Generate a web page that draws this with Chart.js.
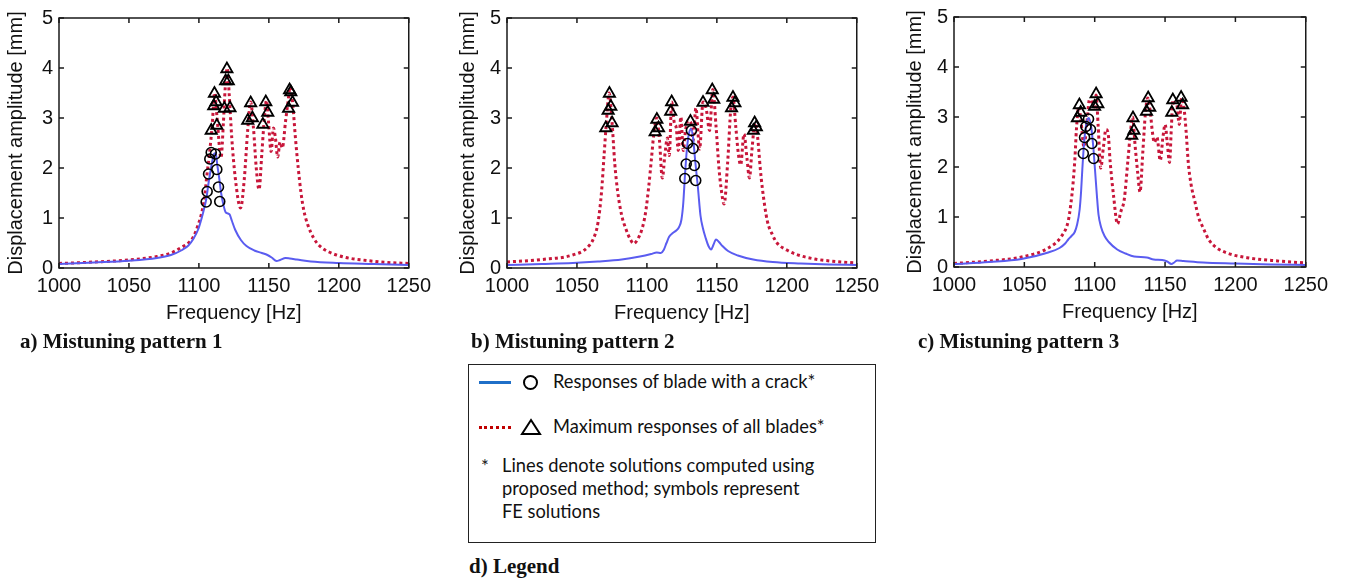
<!DOCTYPE html>
<html>
<head>
<meta charset="utf-8">
<script src="https://cdn.jsdelivr.net/npm/chart.js@4/dist/chart.umd.min.js"></script>
<style>
  body { margin: 0; background: #fff; width: 1355px; height: 581px; position: relative; overflow: hidden; }
  canvas { position: absolute; }
  .cap { position: absolute; font: bold 21px "Liberation Serif", serif; color: #111; line-height: 22px; white-space: nowrap; }
  #legend { position: absolute; left: 468px; top: 364px; width: 406px; height: 177px; border: 1.5px solid #222; font: 18.3px Lato, sans-serif; color: #111; }
  .blue-line { position: absolute; left: 10px; width: 32px; height: 0; border-top: 3px solid #1f6fc8; }
  .red-line { position: absolute; left: 10px; width: 32px; height: 0; border-top: 3px dotted #c00000; }
  .circ { position: absolute; left: 54px; width: 11px; height: 11px; border: 2px solid #000; border-radius: 50%; }
  .txt { position: absolute; left: 84px; white-space: nowrap; }
</style>
</head>
<body>
<canvas id="chartA" width="437" height="330" style="left:0px;top:0px"></canvas>
<canvas id="chartB" width="437" height="330" style="left:448px;top:0px"></canvas>
<canvas id="chartC" width="439" height="330" style="left:895px;top:-1px"></canvas>

<div class="cap" style="left:20px;top:330px">a) Mistuning pattern 1</div>
<div class="cap" style="left:471px;top:330px">b) Mistuning pattern 2</div>
<div class="cap" style="left:918px;top:330px">c) Mistuning pattern 3</div>
<div class="cap" style="left:469px;top:555px">d) Legend</div>

<div id="legend">
  <div class="blue-line" style="top:16px"></div>
  <div class="circ" style="top:10px"></div>
  <div class="txt" style="top:5px">Responses of blade with a crack*</div>
  <div class="red-line" style="top:61px"></div>
  <svg style="position:absolute;left:51px;top:53px" width="22" height="18"><polygon points="11,2 20,16 2,16" fill="none" stroke="#000" stroke-width="2"/></svg>
  <div class="txt" style="top:50px">Maximum responses of all blades*</div>
  <div class="txt" style="left:12px;top:90px">*</div>
  <div class="txt" style="left:33px;top:89px;line-height:23px">Lines denote solutions computed using<br>proposed method; symbols represent<br>FE solutions</div>
</div>

<script>
// ---- axis ticks ----
const freqTicks = [1000, 1050, 1100, 1150, 1200, 1250];
const ampTicks = [0, 1, 2, 3, 4, 5];

// ---- pattern 1 ----
const aBlueF = [1000, 1025, 1050, 1070, 1080, 1088, 1092.5, 1096, 1099.6, 1102, 1104, 1105.4, 1107, 1109, 1110.8, 1112, 1113.2, 1114.6, 1116, 1117.5, 1119, 1120.8, 1122, 1123.5, 1126, 1130, 1134, 1139.6, 1145, 1149, 1152, 1155.5, 1158, 1162, 1165, 1170, 1180, 1200, 1225, 1250];
const aBlue  = [0.08, 0.11, 0.145, 0.2, 0.26, 0.36, 0.45, 0.58, 0.78, 1.0, 1.22, 1.4, 1.72, 2.05, 2.28, 2.3, 2.05, 1.78, 1.48, 1.27, 1.12, 1.09, 1.07, 0.95, 0.76, 0.56, 0.44, 0.35, 0.3, 0.26, 0.21, 0.14, 0.16, 0.2, 0.19, 0.17, 0.13, 0.1, 0.08, 0.06];
const aRedF  = [1000, 1025, 1050, 1070, 1080, 1088, 1092.5, 1096, 1099.3, 1102, 1104, 1105.5, 1107.6, 1109.5, 1111.2, 1113, 1115.8, 1117.5, 1118.8, 1120.3, 1121.6, 1123.5, 1126, 1129.8, 1132.5, 1135, 1137, 1139, 1141, 1143, 1145, 1146.8, 1148.3, 1149.8, 1151.6, 1153.3, 1154.7, 1156.3, 1158, 1159.6, 1162, 1163.6, 1165.3, 1167, 1169, 1171, 1173, 1175, 1178, 1182, 1186, 1193, 1205, 1220, 1235, 1250];
const aRed   = [0.09, 0.12, 0.16, 0.23, 0.3, 0.42, 0.5, 0.62, 0.85, 1.1, 1.4, 1.8, 2.3, 2.85, 3.5, 3.0, 2.2, 2.9, 3.6, 4.0, 3.5, 2.6, 1.8, 1.2, 1.8, 2.8, 3.32, 2.8, 2.0, 1.57, 2.3, 3.0, 3.35, 2.9, 2.33, 2.8, 2.6, 2.22, 2.52, 2.4, 2.95, 3.3, 3.62, 3.3, 2.6, 2.0, 1.5, 1.15, 0.85, 0.6, 0.45, 0.32, 0.21, 0.15, 0.11, 0.09];
const aCircF = [1105.2, 1105.9, 1106.9, 1107.8, 1108.8, 1111.8, 1112.8, 1114, 1114.9];
const aCirc  = [1.32, 1.53, 1.88, 2.18, 2.31, 2.28, 1.97, 1.62, 1.33];
const aTriF  = [1108.8, 1110.6, 1111.1, 1112.3, 1112.8, 1118.2, 1119.1, 1120, 1121, 1122.2, 1134.9, 1137, 1138.2, 1145.7, 1147.8, 1149.2, 1164.1, 1164.8, 1165.7, 1166.9];
const aTri   = [2.75, 3.24, 3.49, 3.32, 2.85, 3.19, 3.74, 3.98, 3.74, 3.2, 2.95, 3.3, 3.0, 2.87, 3.32, 3.11, 3.19, 3.56, 3.52, 3.31];

// ---- pattern 2 ----
const bBlueF = [1000, 1025, 1047, 1065, 1082, 1095, 1103, 1107, 1110, 1112, 1114, 1116, 1118.5, 1121, 1123, 1124.7, 1126, 1127.2, 1128.5, 1130, 1131.5, 1133, 1134.5, 1136.5, 1138.3, 1140, 1142, 1144, 1145.9, 1147.5, 1149.4, 1151.5, 1154, 1158, 1165, 1176, 1190, 1210, 1230, 1250];
const bBlue  = [0.06, 0.08, 0.1, 0.13, 0.17, 0.23, 0.28, 0.31, 0.3, 0.36, 0.5, 0.63, 0.7, 0.75, 0.82, 0.97, 1.3, 1.85, 2.35, 2.68, 2.78, 2.6, 2.15, 1.6, 1.05, 0.8, 0.6, 0.44, 0.37, 0.46, 0.57, 0.52, 0.44, 0.34, 0.25, 0.17, 0.12, 0.09, 0.07, 0.06];
const bRedF  = [1000, 1025, 1047, 1057, 1062, 1065, 1067.5, 1069.5, 1071, 1073, 1075, 1077, 1079, 1082, 1085, 1088, 1090.6, 1093.5, 1096.5, 1099, 1101.2, 1103.3, 1105, 1107, 1109, 1111, 1113, 1114.6, 1116, 1117.7, 1119.6, 1121, 1122.4, 1124.3, 1126, 1127.6, 1129.5, 1131.3, 1133, 1135, 1137.7, 1140.1, 1142.4, 1144.8, 1147.1, 1149.5, 1151.5, 1153, 1155.2, 1157.7, 1160, 1161.5, 1163.6, 1165.3, 1167, 1169.4, 1171.5, 1173.3, 1175.2, 1177.3, 1179.2, 1181, 1182.5, 1186, 1190, 1193, 1200, 1207, 1220, 1235, 1250];
const bRed   = [0.12, 0.17, 0.26, 0.4, 0.6, 0.9, 1.5, 2.3, 2.9, 3.5, 2.95, 2.1, 1.55, 1.05, 0.78, 0.58, 0.49, 0.58, 0.78, 1.1, 1.6, 2.2, 2.7, 3.0, 2.55, 1.8, 2.3, 2.6, 2.25, 3.32, 2.9, 2.8, 2.35, 3.02, 2.35, 2.75, 2.95, 2.92, 2.55, 3.2, 2.38, 3.32, 3.18, 2.75, 3.57, 2.8, 2.0, 1.6, 1.28, 2.1, 3.2, 3.42, 2.8, 2.3, 2.06, 2.68, 2.2, 1.8, 2.4, 2.9, 2.6, 2.0, 1.6, 0.95, 0.65, 0.5, 0.36, 0.27, 0.18, 0.13, 0.1];
const bCircF = [1127.1, 1128.1, 1129, 1131.8, 1133, 1133.9, 1134.9];
const bCirc  = [1.79, 2.08, 2.49, 2.75, 2.39, 2.05, 1.75];
const bTriF  = [1070.6, 1072.3, 1073.2, 1074.2, 1075.1, 1105.9, 1107.1, 1108.3, 1117, 1117.7, 1131.1, 1140.1, 1146.7, 1147.8, 1160.5, 1161.5, 1162.9, 1176.1, 1177, 1178.2];
const bTri   = [2.8, 3.15, 3.49, 3.23, 2.9, 2.72, 2.97, 2.8, 3.13, 3.32, 2.93, 3.31, 3.56, 3.37, 3.2, 3.41, 3.3, 2.75, 2.9, 2.82];

// ---- pattern 3 ----
const cBlueF = [1000, 1025, 1048, 1067, 1075, 1079, 1081.2, 1083.5, 1085.8, 1087.5, 1089.3, 1090.3, 1091.2, 1092.5, 1094, 1095.7, 1097.5, 1099, 1100.2, 1101.5, 1102.7, 1104.5, 1107, 1110, 1116, 1122, 1128, 1137, 1142, 1148, 1151.5, 1154.5, 1156.5, 1158.5, 1163, 1177, 1200, 1225, 1250];
const cBlue  = [0.06, 0.1, 0.16, 0.29, 0.38, 0.47, 0.55, 0.62, 0.7, 0.85, 1.15, 1.5, 1.95, 2.5, 2.85, 2.98, 2.8, 2.4, 1.95, 1.45, 1.05, 0.8, 0.62, 0.5, 0.35, 0.27, 0.21, 0.19, 0.15, 0.14, 0.11, 0.06, 0.09, 0.13, 0.12, 0.09, 0.07, 0.05, 0.04];
const cRedF  = [1000, 1025, 1048, 1067, 1076.5, 1081.2, 1083, 1084.7, 1086, 1087, 1088.7, 1090.3, 1092.4, 1094.5, 1096.3, 1098, 1099.9, 1101, 1102.5, 1104.3, 1106.2, 1108, 1109.5, 1111, 1113.5, 1116.2, 1118.5, 1121, 1123.5, 1125.6, 1126.9, 1128.8, 1130.5, 1132.2, 1134.2, 1136.1, 1137.7, 1139.5, 1141, 1142.4, 1144.2, 1146.6, 1148.5, 1150.1, 1151.5, 1153.2, 1154.5, 1155.6, 1157, 1158.3, 1160.1, 1161.8, 1163.4, 1165, 1166.5, 1168.5, 1171.2, 1174, 1177, 1181, 1186.4, 1195, 1209.7, 1230, 1250];
const cRed   = [0.07, 0.12, 0.2, 0.38, 0.62, 0.92, 1.25, 1.7, 2.2, 2.75, 3.2, 2.9, 2.4, 2.9, 3.35, 3.3, 3.2, 3.44, 2.8, 1.98, 2.4, 2.75, 2.68, 2.1, 1.4, 0.86, 1.1, 1.35, 2.1, 2.75, 3.0, 2.4, 1.9, 1.5, 2.3, 3.1, 3.38, 3.1, 2.7, 2.49, 2.6, 2.13, 2.6, 2.85, 2.5, 2.09, 2.8, 3.34, 3.25, 3.24, 2.85, 3.38, 3.2, 2.7, 2.09, 1.65, 1.31, 0.98, 0.79, 0.55, 0.39, 0.27, 0.18, 0.12, 0.08];
const cCircF = [1091.9, 1092.8, 1093.8, 1095.6, 1097, 1098, 1099.2];
const cCirc  = [2.27, 2.59, 2.81, 2.96, 2.75, 2.47, 2.17];
const cTriF  = [1087.7, 1089.1, 1090, 1099.9, 1101, 1102.2, 1126.3, 1127.2, 1127.9, 1136.8, 1138, 1139.1, 1154.8, 1155.5, 1161.4, 1162.5];
const cTri   = [2.98, 3.24, 3.09, 3.21, 3.46, 3.26, 2.63, 2.98, 2.73, 3.11, 3.38, 3.19, 3.09, 3.34, 3.39, 3.24];

const pts = (xs, ys) => xs.map((x, i) => ({ x, y: ys[i] }));

// box round the plot with ticks pointing inwards, matlab style
const framePlugin = {
    id: 'frame',
    afterDraw(chart) {
        const { ctx, chartArea: a, scales } = chart;
        ctx.save();
        ctx.strokeStyle = '#1a1a1a';
        ctx.lineWidth = 1.5;
        ctx.strokeRect(a.left, a.top, a.right - a.left, a.bottom - a.top);
        ctx.beginPath();
        freqTicks.forEach(v => {
            const x = scales.x.getPixelForValue(v);
            ctx.moveTo(x, a.bottom); ctx.lineTo(x, a.bottom - 5);
            ctx.moveTo(x, a.top); ctx.lineTo(x, a.top + 5);
        });
        ampTicks.forEach(v => {
            const y = scales.y.getPixelForValue(v);
            ctx.moveTo(a.left, y); ctx.lineTo(a.left + 5, y);
            ctx.moveTo(a.right, y); ctx.lineTo(a.right - 5, y);
        });
        ctx.stroke();
        ctx.restore();
    }
};

const makePanel = (id, d, titleGap) => {
    const tickFont = { family: '"Liberation Sans", Arial, sans-serif', size: 20 };
    return new Chart(document.getElementById(id), {
        type: 'scatter',
        data: {
            datasets: [
                { type: 'scatter', data: pts(d.triF, d.tri), pointStyle: 'triangle', pointRadius: 6.5,
                  backgroundColor: 'rgba(0,0,0,0)', borderColor: '#000', pointBorderWidth: 1.8, order: 0 },
                { type: 'scatter', data: pts(d.circF, d.circ), pointStyle: 'circle', pointRadius: 5,
                  backgroundColor: 'rgba(0,0,0,0)', borderColor: '#000', pointBorderWidth: 1.6, order: 1 },
                { type: 'line', data: pts(d.blueF, d.blue), borderColor: '#5a5cf0', borderWidth: 2,
                  pointRadius: 0, cubicInterpolationMode: 'monotone', order: 2 },
                { type: 'line', data: pts(d.redF, d.red), borderColor: '#c8163a', borderWidth: 3,
                  borderDash: [3, 3], borderCapStyle: 'butt', pointRadius: 0,
                  cubicInterpolationMode: 'monotone', order: 3 }
            ]
        },
        options: {
            responsive: false,
            animation: false,
            devicePixelRatio: 1,
            layout: { padding: { top: 14, right: 24, left: 0, bottom: 0 } },
            plugins: { legend: { display: false }, tooltip: { enabled: false } },
            scales: {
                x: {
                    type: 'linear', min: 1000, max: 1250,
                    afterBuildTicks: s => { s.ticks = freqTicks.map(v => ({ value: v })); },
                    afterFit: s => { s.height = 62; },
                    grid: { display: false, drawTicks: false },
                    border: { display: false },
                    ticks: { padding: 6, color: '#111', font: tickFont, maxRotation: 0, callback: v => String(v) },
                    title: { display: true, text: 'Frequency [Hz]', color: '#111', font: tickFont, padding: { top: 0, bottom: 5 } }
                },
                y: {
                    type: 'linear', min: 0, max: 5,
                    afterBuildTicks: s => { s.ticks = ampTicks.map(v => ({ value: v })); },
                    afterFit: s => { s.width = 59; },
                    grid: { display: false, drawTicks: false },
                    border: { display: false },
                    ticks: { padding: 6, color: '#111', font: tickFont, callback: v => String(v) },
                    title: { display: true, text: 'Displacement amplitude [mm]', color: '#111', font: tickFont, padding: { top: titleGap, bottom: 0 } }
                }
            }
        },
        plugins: [framePlugin]
    });
};

makePanel('chartA', { blueF: aBlueF, blue: aBlue, redF: aRedF, red: aRed, circF: aCircF, circ: aCirc, triF: aTriF, tri: aTri }, 4.5);
makePanel('chartB', { blueF: bBlueF, blue: bBlue, redF: bRedF, red: bRed, circF: bCircF, circ: bCirc, triF: bTriF, tri: bTri }, 8);
makePanel('chartC', { blueF: cBlueF, blue: cBlue, redF: cRedF, red: cRed, circF: cCircF, circ: cCirc, triF: cTriF, tri: cTri }, 8);
</script>
</body>
</html>
